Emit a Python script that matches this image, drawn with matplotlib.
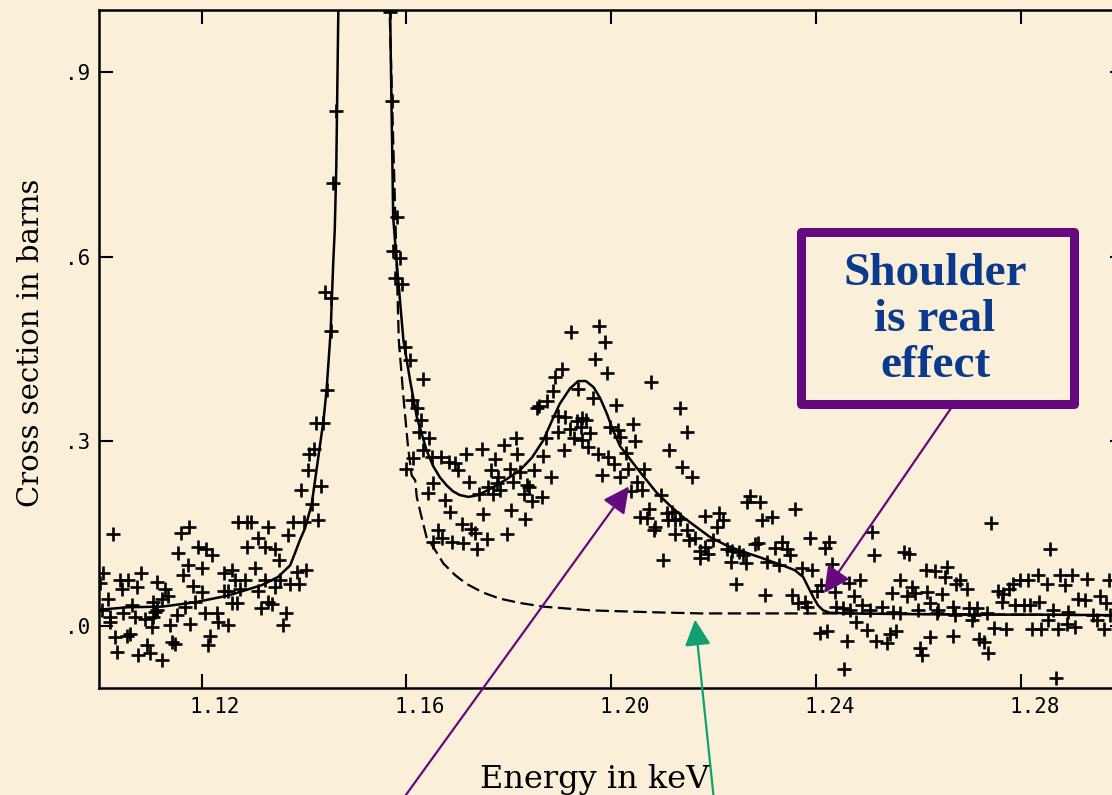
import matplotlib.pyplot as plt
from matplotlib.patches import Rectangle
from matplotlib.transforms import ScaledTranslation

energy_low = [
    1.1002, 1.1005, 1.1008, 1.1017, 1.1021, 1.1021, 1.1028, 1.1031, 1.1036, 1.1041,
    1.1044, 1.1047, 1.1054, 1.1057, 1.1060, 1.1064, 1.1070, 1.1074, 1.1077, 1.1082,
    1.1090, 1.1093, 1.1100, 1.1103, 1.1106, 1.1106, 1.1109, 1.1113, 1.1113, 1.1122,
    1.1122, 1.1129, 1.1135, 1.1139, 1.1142, 1.1148, 1.1152, 1.1155, 1.1160, 1.1163,
    1.1168, 1.1173, 1.1176, 1.1178, 1.1184, 1.1187, 1.1193, 1.1200, 1.1200, 1.1207,
    1.1209, 1.1213, 1.1217, 1.1220, 1.1230, 1.1233, 1.1243, 1.1243, 1.1251, 1.1252,
    1.1259, 1.1259, 1.1265, 1.1269, 1.1272, 1.1275, 1.1285, 1.1288, 1.1288, 1.1297,
    1.1304, 1.1311, 1.1311, 1.1317, 1.1324, 1.1324, 1.1330, 1.1330, 1.1337, 1.1343,
    1.1343, 1.1352, 1.1353, 1.1360, 1.1364, 1.1369, 1.1373, 1.1379, 1.1386, 1.1390,
    1.1394, 1.1400, 1.1404, 1.1407, 1.1410, 1.1415, 1.1420, 1.1423, 1.1428, 1.1433,
    1.1438, 1.1441, 1.1444, 1.1452, 1.1452, 1.1457, 1.1462]
sigma_low = [
    0.070, 0.026, 0.086, 0.045, 0.015, 0.007, 0.150, -0.017, -0.042, 0.076,
    0.061, 0.021, -0.015, 0.076, -0.012, 0.034, 0.015, 0.064, -0.047, 0.086,
    0.012, -0.031, -0.044, -0.001, 0.039, 0.015, 0.023, 0.072, 0.027, 0.045,
    -0.054, 0.061, 0.050, 0.003, -0.025, -0.028, 0.018, 0.119, 0.151, 0.084,
    0.031, 0.099, 0.161, 0.004, 0.065, 0.039, 0.129, 0.095, 0.056, 0.021,
    0.126, -0.031, -0.016, 0.115, 0.021, 0.007, 0.086, 0.058, 0.058, 0.002,
    0.091, 0.038, 0.075, 0.038, 0.169, 0.061, 0.075, 0.169, 0.129, 0.169,
    0.094, 0.144, 0.058, 0.029, 0.129, 0.075, 0.162, 0.039, 0.037, 0.126,
    0.064, 0.108, 0.075, 0.002, 0.022, 0.148, 0.069, 0.170, 0.088, 0.069,
    0.222, 0.170, 0.091, 0.253, 0.280, 0.198, 0.288, 0.330, 0.172, 0.228,
    0.330, 0.543, 0.383, 0.532, 0.479, 0.720, 0.836]

energy_mid = [
    1.1568, 1.1571, 1.1582, 1.1574, 1.1588, 1.1578, 1.1592, 1.1597, 1.1606, 1.1632,
    1.1610, 1.1621, 1.1628, 1.1624, 1.1644, 1.1633, 1.1613, 1.1649, 1.1667, 1.1682,
    1.1695, 1.1701, 1.1600, 1.1716, 1.1652, 1.1641, 1.1721, 1.1675, 1.1685, 1.1662,
    1.1669, 1.1652, 1.1688, 1.1708, 1.1726, 1.1733, 1.1711, 1.1738, 1.1757, 1.1750,
    1.1747, 1.1773, 1.1765, 1.1778, 1.1776, 1.1790, 1.1814, 1.1815, 1.1802, 1.1821,
    1.1808, 1.1760, 1.1782, 1.1769, 1.1742, 1.1835, 1.1840, 1.1829, 1.1845, 1.1864,
    1.1849, 1.1867, 1.1881, 1.1872, 1.1896, 1.1895, 1.1910, 1.1919, 1.1933, 1.1942,
    1.1950, 1.1940, 1.1927, 1.1942, 1.1958, 1.1955, 1.1974, 1.1908, 1.1796, 1.1804,
    1.1831, 1.1921, 1.1976, 1.1987, 1.1968, 1.1991, 1.1903, 1.1890, 1.1885, 1.1874,
    1.1854, 1.1859, 1.1935, 1.1963, 1.2009, 1.2078, 1.2134, 1.2148, 1.2112, 1.2138,
    1.2158, 1.1997, 1.2012, 1.2017, 1.2042, 1.2046, 1.1994, 1.2005, 1.2029, 1.1981,
    1.2017, 1.2032, 1.2064, 1.2050, 1.2060, 1.2039, 1.2096, 1.2073, 1.2056, 1.2069,
    1.2085, 1.2083, 1.2108, 1.2118, 1.2110, 1.2124, 1.2134, 1.2124, 1.2147, 1.2152,
    1.2163, 1.2101, 1.2183, 1.2209, 1.2218, 1.2205, 1.2198, 1.2173, 1.2183, 1.2189,
    1.2173, 1.2225, 1.2236, 1.2249, 1.2257, 1.2262, 1.2234, 1.2243, 1.2300, 1.2270,
    1.2264, 1.2290, 1.2293, 1.2313, 1.2358, 1.2280, 1.2286, 1.2319, 1.2332, 1.2342,
    1.2348, 1.2304, 1.2327, 1.2387, 1.2416, 1.2424, 1.2430, 1.2371, 1.2392, 1.2352,
    1.2364, 1.2378, 1.2381, 1.2401, 1.2409]
sigma_mid = [
    0.997, 0.852, 0.664, 0.609, 0.598, 0.565, 0.555, 0.454, 0.432, 0.402,
    0.367, 0.355, 0.335, 0.315, 0.305, 0.286, 0.273, 0.274, 0.275, 0.266,
    0.265, 0.253, 0.256, 0.279, 0.232, 0.216, 0.234, 0.205, 0.185, 0.157,
    0.144, 0.137, 0.137, 0.166, 0.158, 0.152, 0.136, 0.126, 0.141, 0.183,
    0.288, 0.271, 0.254, 0.243, 0.233, 0.294, 0.306, 0.279, 0.256, 0.250,
    0.234, 0.226, 0.222, 0.215, 0.215, 0.230, 0.226, 0.215, 0.203, 0.210,
    0.254, 0.277, 0.242, 0.306, 0.315, 0.342, 0.340, 0.321, 0.333, 0.338,
    0.335, 0.323, 0.305, 0.302, 0.313, 0.291, 0.280, 0.286, 0.150, 0.188,
    0.174, 0.478, 0.487, 0.462, 0.433, 0.411, 0.418, 0.404, 0.382, 0.366,
    0.355, 0.357, 0.385, 0.371, 0.359, 0.396, 0.355, 0.315, 0.286, 0.259,
    0.243, 0.323, 0.319, 0.308, 0.328, 0.301, 0.275, 0.264, 0.281, 0.246,
    0.242, 0.256, 0.255, 0.234, 0.222, 0.220, 0.213, 0.191, 0.177, 0.176,
    0.161, 0.156, 0.184, 0.186, 0.172, 0.172, 0.175, 0.150, 0.157, 0.140,
    0.144, 0.108, 0.179, 0.184, 0.172, 0.161, 0.140, 0.123, 0.129, 0.118,
    0.111, 0.126, 0.123, 0.121, 0.115, 0.103, 0.104, 0.069, 0.051, 0.211,
    0.202, 0.201, 0.172, 0.177, 0.191, 0.134, 0.136, 0.127, 0.137, 0.126,
    0.115, 0.104, 0.099, 0.144, 0.127, 0.137, 0.101, 0.095, 0.092, 0.051,
    0.038, 0.039, 0.032, 0.058, 0.067]

energy_high = [
    1.2407, 1.2421, 1.2454, 1.2508, 1.2512, 1.2464, 1.2484, 1.2473, 1.2488, 1.2436,
    1.2439, 1.2452, 1.2465, 1.2478, 1.2498, 1.2459, 1.2517, 1.2537, 1.2543, 1.2556,
    1.2504, 1.2527, 1.2550, 1.2563, 1.2562, 1.2547, 1.2571, 1.2581, 1.2586, 1.2592,
    1.2576, 1.2599, 1.2621, 1.2638, 1.2621, 1.2601, 1.2605, 1.2614, 1.2631, 1.2654,
    1.2651, 1.2616, 1.2644, 1.2636, 1.2667, 1.2670, 1.2666, 1.2673, 1.2680, 1.2693,
    1.2698, 1.2707, 1.2703, 1.2713, 1.2732, 1.2718, 1.2726, 1.2735, 1.2740, 1.2746,
    1.2770, 1.2755, 1.2764, 1.2761, 1.2776, 1.2784, 1.2787, 1.2797, 1.2813, 1.2804,
    1.2817, 1.2821, 1.2839, 1.2833, 1.2849, 1.2835, 1.2862, 1.2856, 1.2852, 1.2867,
    1.2872, 1.2888, 1.2904, 1.2875, 1.2898, 1.2885, 1.2891, 1.2911, 1.2924, 1.2927,
    1.2940, 1.2947, 1.2960, 1.2953, 1.2965, 1.2970, 1.2973]
sigma_high = [
    -0.011, -0.008, -0.069, 0.153, 0.115, 0.070, 0.076, 0.050, 0.034, 0.056,
    0.031, 0.029, 0.026, 0.007, -0.006, -0.024, -0.023, -0.027, -0.012, -0.008,
    0.026, 0.032, 0.023, 0.021, 0.076, 0.054, 0.121, 0.117, 0.064, 0.054,
    0.049, 0.026, 0.038, 0.027, -0.018, -0.035, -0.047, 0.092, 0.090, 0.097,
    0.080, 0.056, 0.052, 0.021, 0.031, 0.018, -0.015, 0.069, 0.075, 0.061,
    0.030, 0.019, 0.011, 0.029, 0.021, -0.020, -0.025, -0.044, 0.168, -0.002,
    -0.004, 0.058, 0.053, 0.039, 0.061, 0.069, 0.034, 0.076, 0.075, 0.034,
    0.034, -0.005, -0.005, 0.084, 0.069, 0.039, 0.027, 0.126, 0.011, -0.083,
    -0.005, 0.004, -0.001, 0.084, 0.084, 0.067, 0.023, 0.045, 0.042, 0.077,
    0.018, 0.011, -0.004, 0.050, 0.038, 0.075, 0.019]

# full fit (solid) and single-resonance fit (dashed)
fit_E = [1.1000, 1.1057, 1.1123, 1.1187, 1.1252, 1.1318, 1.1349, 1.1373, 1.1382, 1.1392,
         1.1402, 1.1415, 1.1427, 1.1438, 1.1444, 1.1452, 1.1457, 1.1460, 1.1463, 1.1467,
         1.1470, 1.1516, 1.1566, 1.1568, 1.1574, 1.1581, 1.1594, 1.1607, 1.1620, 1.1639,
         1.1652, 1.1665, 1.1678, 1.1691, 1.1704, 1.1721, 1.1740, 1.1763, 1.1792, 1.1821,
         1.1845, 1.1867, 1.1884, 1.1899, 1.1919, 1.1935, 1.1950, 1.1965, 1.1978, 1.1991,
         1.2003, 1.2017, 1.2043, 1.2056, 1.2088, 1.2114, 1.2140, 1.2166, 1.2192, 1.2225,
         1.2257, 1.2290, 1.2316, 1.2340, 1.2358, 1.2374, 1.2383, 1.2394, 1.2403, 1.2413,
         1.2426, 1.2465, 1.2563, 1.2693, 1.2836, 1.3000]
fit_xs = [0.027, 0.031, 0.032, 0.039, 0.050, 0.067, 0.080, 0.099, 0.118, 0.140,
          0.159, 0.198, 0.269, 0.334, 0.383, 0.479, 0.589, 0.643, 0.745, 1.000,
          1.100, 6.000, 1.100, 1.000, 0.664, 0.589, 0.464, 0.399, 0.340, 0.286,
          0.260, 0.242, 0.229, 0.219, 0.213, 0.210, 0.213, 0.223, 0.237, 0.253,
          0.274, 0.302, 0.334, 0.361, 0.386, 0.398, 0.398, 0.388, 0.370, 0.345,
          0.318, 0.292, 0.264, 0.250, 0.217, 0.196, 0.177, 0.161, 0.145, 0.131,
          0.121, 0.112, 0.104, 0.097, 0.091, 0.080, 0.065, 0.047, 0.034, 0.026,
          0.022, 0.021, 0.020, 0.019, 0.019, 0.018]

bg_E = [1.1565, 1.1567, 1.1580, 1.1585, 1.1594, 1.1603, 1.1610, 1.1617, 1.1620, 1.1628,
        1.1639, 1.1652, 1.1672, 1.1695, 1.1717, 1.1749, 1.1782, 1.1821, 1.1867, 1.1958,
        1.2075, 1.2173, 1.2432, 1.3000]
bg_xs = [1.100, 1.000, 0.610, 0.464, 0.372, 0.291, 0.245, 0.237, 0.210, 0.182,
         0.145, 0.129, 0.102, 0.083, 0.069, 0.055, 0.045, 0.038, 0.032, 0.026,
         0.023, 0.021, 0.021, 0.018]

x_ticks = [1.12, 1.16, 1.20, 1.24, 1.28]
x_ticklabels = ['1.12', '1.16', '1.20', '1.24', '1.28']
y_ticks = [0.0, 0.3, 0.6, 0.9]
y_ticklabels = ['.0', '.3', '.6', '.9']

BG = '#faf0da'
PURPLE = '#650a7c'
GREEN = '#11a06f'
BLUE = '#0b3a8c'

W, H = 1112, 795
fig = plt.figure(figsize=(W / 100, H / 100), dpi=100, facecolor=BG)
ax = fig.add_axes([99 / W, 107 / H, 1025 / W, 678 / H], facecolor=BG)

energy = energy_low + energy_mid + energy_high
sigma = sigma_low + sigma_mid + sigma_high
ax.plot(energy, sigma, ls='none', marker='+', ms=9.5, mew=1.9, color='k')
ax.plot(fit_E, fit_xs, color='k', lw=1.8)
ax.plot(bg_E, bg_xs, color='k', lw=1.6, ls=(0, (6, 2.5)))

ax.set_xlim(1.10, 1.30)
ax.set_ylim(-0.1, 1.0)
ax.set_xticks(x_ticks)
ax.set_xticklabels(x_ticklabels)
ax.set_yticks(y_ticks)
ax.set_yticklabels(y_ticklabels)
ax.tick_params(direction='in', length=10, width=1.5, top=True, right=True,
               labelsize=15, pad=6.5)
for lbl in ax.get_xticklabels() + ax.get_yticklabels():
    lbl.set_family('DejaVu Sans Mono')
# the plotter put the x labels a little right of the ticks
for lbl in ax.get_xticklabels():
    lbl.set_transform(lbl.get_transform() + ScaledTranslation(0.13, 0, fig.dpi_scale_trans))
for sp in ax.spines.values():
    sp.set_linewidth(1.8)

fig.text(31 / W, 1 - 343 / H, 'Cross section in barns', rotation=90,
         ha='center', va='center', fontsize=21, family='DejaVu Serif')
fig.text(595 / W, 7 / H, 'Energy in keV', ha='center', va='baseline',
         fontsize=23, family='DejaVu Serif')

# arrows
arrow_style = '-|>,head_length=0.8,head_width=0.4'
ax.annotate('', xy=(1.2034, 0.227), xycoords='data', xytext=(395, -15),
            textcoords='figure pixels', annotation_clip=False,
            arrowprops=dict(arrowstyle=arrow_style, color=PURPLE, lw=1.6,
                            mutation_scale=20, shrinkA=0, shrinkB=0))
ax.annotate('', xy=(1.2415, 0.054), xycoords='data', xytext=(958, 397),
            textcoords='figure pixels', annotation_clip=False,
            arrowprops=dict(arrowstyle=arrow_style, color=PURPLE, lw=1.6,
                            mutation_scale=20, shrinkA=0, shrinkB=0))
ax.annotate('', xy=(1.2163, 0.011), xycoords='data', xytext=(715, -15),
            textcoords='figure pixels', annotation_clip=False,
            arrowprops=dict(arrowstyle=arrow_style, color=GREEN, lw=1.6,
                            mutation_scale=20, shrinkA=0, shrinkB=0))

# callout box
box = Rectangle((800.5 / W, 391.5 / H), 273 / W, 172 / H, transform=fig.transFigure,
                facecolor=BG, edgecolor=PURPLE, lw=6.5, joinstyle='round', zorder=3)
fig.add_artist(box)
fig.text(935 / W, 1 - 320 / H, 'Shoulder\nis real\neffect', ha='center', va='center',
         fontsize=34, fontweight='bold', family='Liberation Serif', color=BLUE,
         linespacing=1.14, zorder=4)

fig.savefig('out.png', dpi=100, facecolor=BG)
